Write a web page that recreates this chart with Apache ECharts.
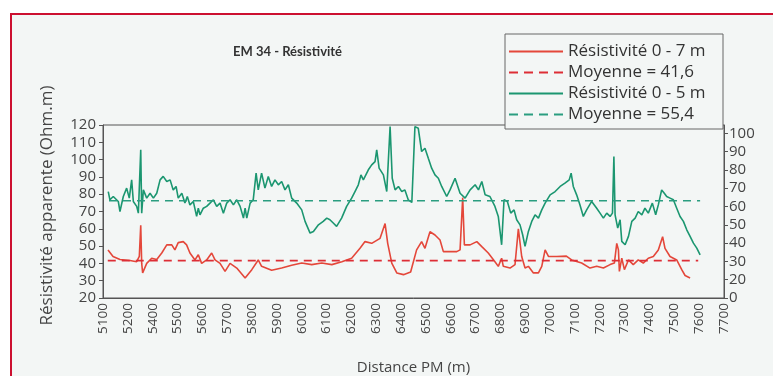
<!DOCTYPE html>
<html>
<head>
<meta charset="utf-8">
<script src="https://cdn.jsdelivr.net/npm/echarts@6/dist/echarts.min.js"></script>
<style>
  html, body { margin: 0; padding: 0; background: #fff; }
  #chart { width: 773px; height: 376px; }
</style>
</head>
<body>
<div id="chart"></div>
<script>
// x tick labels as printed (5300 is missing in the source)
const xTicks = ["5100","5200","5400","5500","5600","5700","5800","5900","6000","6100","6200","6300","6400","6500","6600","6700","6800","6900","7000","7100","7200","7300","7400","7500","7600","7700"];
const rightTicks = ["0","20","30","40","50","60","70","80","90","100"];

// Résistivité 0 - 7 m (left axis)
const redDist = [5121,5142,5171,5213,5241,5252,5258,5262,5266,5283,5304,5325,5346,5367,5388,5401,5415,5436,5450,5464,5485,5499,5513,5534,5555,5569,5590,5611,5632,5660,5695,5723,5750,5764,5806,5848,5890,5932,5974,6016,6058,6100,6141,6176,6197,6225,6260,6281,6292,6309,6330,6358,6388,6413,6434,6448,6469,6490,6511,6525,6553,6581,6595,6606,6613,6637,6665,6686,6713,6741,6755,6769,6776,6804,6825,6839,6853,6867,6881,6902,6923,6937,6951,6965,7000,7040,7062,7104,7139,7167,7195,7223,7241,7251,7258,7262,7272,7283,7300,7320,7341,7362,7383,7404,7425,7443,7453,7474,7502,7523,7537,7558];
const redVal  = [47.8,44,42.3,41.7,41,44,62,40,34.5,40,43,42.3,46,50.7,50.7,47.8,52,52.6,50.7,46,42,45,40,42,46,42,40,35.4,40,37.3,31.6,36.4,42,38.3,36,37.3,38.9,40.2,39.3,40.2,39.3,41,43,48.7,52.6,51.6,54.5,63,51.6,40.2,34.5,33.5,35,47.8,52.6,48.7,58.3,56.4,53.5,46.8,46.8,46.8,47.8,78,50.7,50.7,52.6,49.7,46,41,38.3,43,38.3,37.3,39.3,60,44,37.3,38.3,34.5,34.5,38.3,47.8,44,44,44.2,42,40.2,37.3,38.3,37.3,39.3,40.2,51.6,47.8,35.4,43,36.4,42,39.3,42,40.2,43,44,47.8,55.4,48.7,44,42,36.4,33,31.6];

// Résistivité 0 - 5 m (right axis)
const greenDist = [5122,5129,5143,5164,5171,5185,5199,5210,5220,5227,5241,5248,5258,5262,5269,5283,5297,5311,5325,5339,5352,5367,5381,5394,5406,5415,5430,5443,5453,5464,5478,5492,5499,5506,5520,5534,5548,5562,5576,5590,5604,5618,5632,5646,5660,5674,5688,5695,5702,5716,5729,5741,5750,5764,5778,5792,5806,5820,5834,5848,5862,5876,5890,5911,5932,5946,5967,5981,6002,6022,6037,6050,6064,6078,6099,6120,6141,6155,6169,6180,6190,6211,6225,6239,6246,6256,6274,6288,6302,6311,6323,6337,6351,6364,6378,6393,6406,6420,6434,6448,6462,6476,6490,6504,6518,6539,6553,6574,6595,6616,6637,6658,6672,6686,6700,6720,6741,6755,6769,6779,6793,6807,6821,6832,6846,6857,6867,6881,6895,6909,6923,6937,6951,6972,6993,7014,7034,7052,7060,7069,7083,7097,7111,7125,7146,7167,7181,7195,7209,7223,7233,7239,7244,7255,7265,7272,7286,7300,7314,7328,7341,7356,7369,7383,7400,7414,7425,7439,7450,7460,7474,7488,7502,7516,7530,7544,7558,7572,7586,7600];
const greenVal  = [64.6,59.6,61.6,58.6,52.5,61.6,66.7,60.6,71.7,58.6,55.6,51.5,89.9,51.5,65.6,60.6,63.6,60.6,63.6,71.7,73.8,70.7,71.7,65.6,67.7,60.6,63.6,57.6,61.6,56.5,58.6,49.5,54.5,50.5,54.5,55.6,57.6,59.6,55.6,57.6,51.5,57.6,59.6,56.5,59.6,55.6,48.5,54.5,48.5,57.6,59.6,75.8,65.6,75.8,66.7,73.8,67.7,71.7,68.7,70.7,65.6,68.7,60.6,57.6,53.5,46.5,39.4,40.4,44.4,46.5,48.5,47.5,45.5,43.5,48.5,55.6,60.6,64.6,68.7,74.7,71.7,77.8,80.8,82.8,89.9,78.8,74.7,64.6,104,72.7,65.6,67.7,64.6,65.6,59.6,58,104,103,88.9,90.9,84.8,78.8,74.7,72.7,67.7,61.6,65.6,72.7,63.6,60.6,65.6,68.7,65.6,70.7,62.6,61.6,55.6,49.5,32.3,59.6,58.6,51.5,53.5,47.5,44.4,38.4,31.3,40.4,46.5,50.5,48.5,53.5,57.6,62.6,64.6,67.7,69.7,71.7,75.8,67.7,62.6,56.5,49.5,53.5,58.6,54.5,51.5,48.5,51.5,49.5,51.5,85.9,50.5,42.4,47.5,34.4,32.3,37.4,46.5,48.5,52.5,50.5,54.5,51.5,57.6,50.5,56.5,65.6,63.6,61.6,60.6,59.6,54.5,49.5,46.5,41.4,37.4,33.3,30.3,26.2];

// mean lines: [start, end] distance and level
const redMeanDist = [5120, 7592];
const redMean = 41.6;
const greenMeanDist = [5125, 7600];
const greenMean = 59;

const zip = (xs, ys) => xs.map((x, i) => [x, ys[i]]);
const xStep = (7700 - 5100) / (xTicks.length - 1);
const xTickPos = xTicks.map((_, i) => 5100 + i * xStep);
const rTickPos = rightTicks.map((_, i) => i * 100 / (rightTicks.length - 1));

const FONT = "Open Sans";
const SOLID_ICON = "path://M0,0H54V2H0Z";
const DASH_ICON = "path://M0,0h9v2h-9z M15,0h9v2h-9z M30,0h9v2h-9z M45,0h9v2h-9z";

const chart = echarts.init(document.getElementById("chart"));

chart.setOption({
  backgroundColor: "#ffffff",
  animation: false,
  textStyle: { fontFamily: FONT },
  graphic: [
    {
      type: "rect", z: -10, silent: true,
      shape: { x: 11, y: 14, width: 800, height: 400 },
      style: { fill: "#f3f6f5", stroke: "#cc1030", lineWidth: 2 }
    },
    {
      type: "rect", z: 50, silent: true,
      shape: { x: 505, y: 34, width: 218, height: 95 },
      style: { fill: "#f3f6f5", stroke: "#666", lineWidth: 1 }
    }
  ],
  title: {
    text: "EM 34 - Résistivité",
    left: 228, top: 40,
    textStyle: { fontFamily: "Lato", fontSize: 13, fontWeight: "bold", color: "#333" }
  },
  legend: {
    orient: "vertical",
    left: 509, top: 43, padding: 0,
    z: 60,
    itemWidth: 54, itemHeight: 2, itemGap: 4,
    textStyle: { fontFamily: FONT, fontSize: 17, color: "#333" },
    data: [
      { name: "Résistivité 0 - 7 m", icon: SOLID_ICON },
      { name: "Moyenne = 41,6", icon: DASH_ICON },
      { name: "Résistivité 0 - 5 m", icon: SOLID_ICON },
      { name: "Moyenne = 55,4", icon: DASH_ICON }
    ]
  },
  grid: { left: 103, right: 49, top: 125, bottom: 76, show: true, borderColor: "#555", borderWidth: 1, backgroundColor: "transparent" },
  xAxis: {
    type: "value", min: 5100, max: 7700,
    name: "Distance PM (m)", nameLocation: "middle", nameGap: 62,
    nameTextStyle: { fontFamily: FONT, fontSize: 15, color: "#444" },
    axisLine: { lineStyle: { color: "#555" } },
    axisTick: { show: false },
    splitLine: { show: false },
    axisLabel: {
      customValues: xTickPos,
      rotate: 90, fontSize: 13.5, color: "#444", margin: 5,
      formatter: v => xTicks[Math.round((v - 5100) / xStep)]
    }
  },
  yAxis: [
    {
      type: "value", min: 20, max: 120, interval: 10,
      name: "Résistivité apparente (Ohm.m)", nameLocation: "middle", nameGap: 47,
      nameTextStyle: { fontFamily: FONT, fontSize: 17, color: "#444", padding: [0, 0, 0, 12] },
      axisLine: { show: true, lineStyle: { color: "#555" } },
      axisTick: { show: true, length: 4, lineStyle: { color: "#555" } },
      splitLine: { show: false },
      axisLabel: { fontSize: 15, color: "#444", margin: 7 }
    },
    {
      type: "value", min: 0, max: 105, position: "right",
      axisLine: { show: true, lineStyle: { color: "#555" } },
      axisTick: { show: true, length: 4, customValues: rTickPos, lineStyle: { color: "#555" } },
      splitLine: { show: false },
      axisLabel: {
        customValues: rTickPos, fontSize: 15, color: "#444", margin: 5,
        formatter: v => rightTicks[Math.round(v * (rightTicks.length - 1) / 100)]
      }
    }
  ],
  series: [
    {
      name: "Résistivité 0 - 7 m", type: "line", yAxisIndex: 0,
      showSymbol: false, symbol: "none",
      lineStyle: { color: "#e4473a", width: 1.6 }, itemStyle: { color: "#e4473a" },
      data: zip(redDist, redVal)
    },
    {
      name: "Moyenne = 41,6", type: "line", yAxisIndex: 0,
      showSymbol: false, symbol: "none",
      lineStyle: { color: "#dd2e36", width: 1.6, type: [8, 6] }, itemStyle: { color: "#dd2e36" },
      data: zip(redMeanDist, [redMean, redMean])
    },
    {
      name: "Résistivité 0 - 5 m", type: "line", yAxisIndex: 1,
      showSymbol: false, symbol: "none",
      lineStyle: { color: "#1b9670", width: 1.6 }, itemStyle: { color: "#1b9670" },
      data: zip(greenDist, greenVal)
    },
    {
      name: "Moyenne = 55,4", type: "line", yAxisIndex: 1,
      showSymbol: false, symbol: "none",
      lineStyle: { color: "#2a9d80", width: 1.6, type: [8, 6] }, itemStyle: { color: "#2a9d80" },
      data: zip(greenMeanDist, [greenMean, greenMean])
    }
  ]
});
</script>
</body>
</html>
